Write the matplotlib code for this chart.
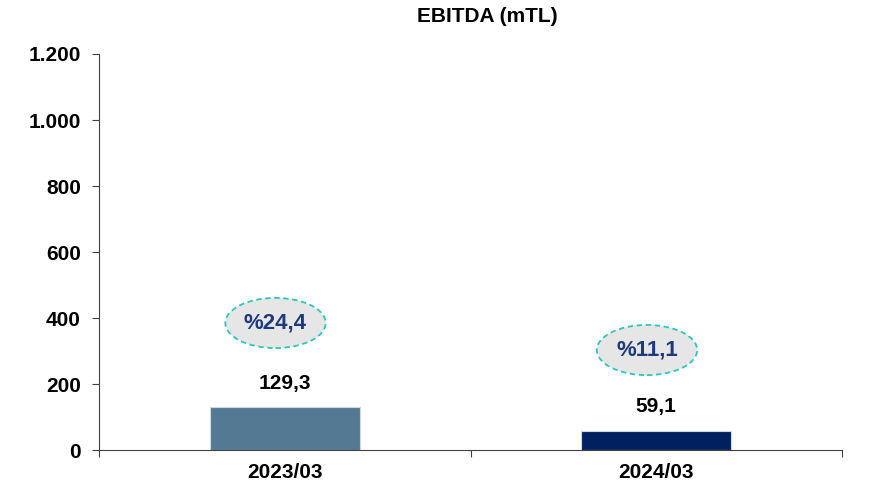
import matplotlib.pyplot as plt
from matplotlib.patches import Ellipse

# EBITDA data (million TL)
periods = ["2023/03", "2024/03"]
ebitda = [129.3, 59.1]
margins = ["%24,4", "%11,1"]
bar_colors = ["#547A93", "#002060"]

y_ticks = [0, 200, 400, 600, 800, 1000, 1200]
y_tick_labels = ["0", "200", "400", "600", "800", "1.000", "1.200"]

plt.rcParams['font.family'] = ['Liberation Sans', 'DejaVu Sans']

fig = plt.figure(figsize=(8.71, 4.9), dpi=100)
ax = fig.add_axes([0.1137, 0.0816, 0.853, 0.8082])

x = list(range(len(periods)))
ax.bar(x, ebitda, width=0.405, color=bar_colors, edgecolor="#D0D8E0",
       linewidth=0.8, zorder=2)

for xi, val in zip(x, ebitda):
    ax.text(xi, val + 72, f"{val:.1f}".replace(".", ","), ha="center",
            va="center", fontsize=15, fontweight="bold", color="black")

# margin bubbles above each bar
bubble_y = [385, 303]
for xi, by, m in zip(x, bubble_y, margins):
    cx = xi - 0.025
    ax.add_patch(Ellipse((cx, by), width=0.27, height=152,
                         facecolor="#E6E6E6", edgecolor="#2EC4C0",
                         linestyle=(0, (3, 2)), linewidth=1.3, zorder=3))
    ax.text(cx, by, m, ha="center", va="center", fontsize=16,
            fontweight="bold", color="#1F3A7A", zorder=4)

ax.set_xlim(-0.5, 1.5)
ax.set_ylim(0, 1200)
ax.set_yticks(y_ticks)
ax.set_yticklabels(y_tick_labels, fontsize=15, fontweight="bold")

# category boundaries as tick marks, labels centred under bars
ax.set_xticks([-0.5, 0.5, 1.5])
ax.set_xticklabels(["", "", ""])
ax.set_xticks(x, minor=True)
ax.set_xticklabels(periods, minor=True, fontsize=15, fontweight="bold")
ax.tick_params(axis="x", which="minor", length=0, pad=9)
ax.tick_params(axis="x", which="major", length=5, direction="out", color="#404040")
ax.tick_params(axis="y", length=5, direction="out", color="#404040", pad=8)

for s in ["top", "right"]:
    ax.spines[s].set_visible(False)
ax.spines["left"].set_color("#404040")
ax.spines["bottom"].set_color("#404040")

fig.text(0.560, 0.966, "EBITDA (mTL)", ha="center", va="center",
         fontsize=15, fontweight="bold")

fig.savefig("out.png", dpi=100)
